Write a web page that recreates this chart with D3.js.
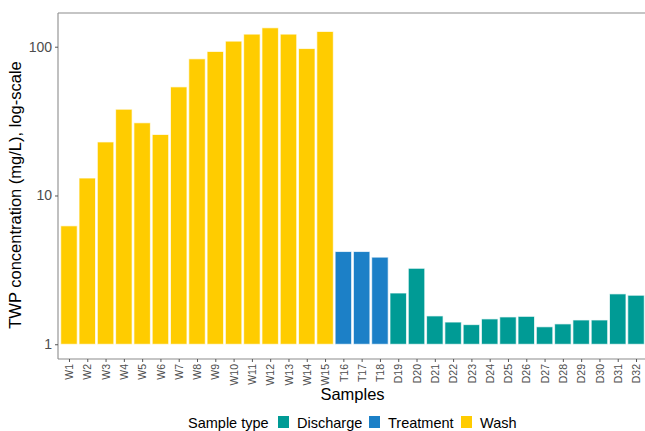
<!DOCTYPE html>
<html><head><meta charset="utf-8">
<script src="https://cdn.jsdelivr.net/npm/d3@7"></script>
<style>body{margin:0;background:#fff}svg{display:block;font-family:"Liberation Sans",Arial,sans-serif}</style>
</head><body><svg id="c" width="645" height="431"></svg>
<script>
const samples = ["W1","W2","W3","W4","W5","W6","W7","W8","W9","W10","W11","W12","W13","W14","W15","T16","T17","T18","D19","D20","D21","D22","D23","D24","D25","D26","D27","D28","D29","D30","D31","D32"];
const values = [6.25,13.1,22.9,38.0,30.8,25.7,53.7,82.9,92.9,109,121.5,134,121.5,97.2,126.6,4.2,4.2,3.85,2.21,3.24,1.55,1.41,1.355,1.48,1.526,1.54,1.31,1.37,1.456,1.456,2.18,2.135];
const types = ["Wash","Wash","Wash","Wash","Wash","Wash","Wash","Wash","Wash","Wash","Wash","Wash","Wash","Wash","Wash","Treatment","Treatment","Treatment","Discharge","Discharge","Discharge","Discharge","Discharge","Discharge","Discharge","Discharge","Discharge","Discharge","Discharge","Discharge","Discharge","Discharge"];
const legendTypes = ["Discharge","Treatment","Wash"];
const typeColors = ["#009B95","#1C80C7","#FFCC00"];
const yTicks = [1,10,100];

const svg = d3.select("#c");
const L = 58, R = 647, T = 13, B = 359;
const x = d3.scalePoint().domain(samples).range([L, R]).padding(0.6);
const y = d3.scaleLog().domain([0.796, 168.5]).range([B, T]);
const color = d3.scaleOrdinal().domain(legendTypes).range(typeColors);
const bw = x.step() * 0.9;

svg.append("g").selectAll("rect").data(samples).join("rect")
  .attr("x", d => x(d) - bw/2)
  .attr("width", bw)
  .attr("y", (d,i) => y(values[i]))
  .attr("height", (d,i) => y(1) - y(values[i]))
  .attr("fill", (d,i) => color(types[i]))
  .attr("stroke", "rgba(255,255,255,0.7)")
  .attr("stroke-width", 1);

// panel lines
svg.append("line").attr("x1", L).attr("x2", 645).attr("y1", T).attr("y2", T).attr("stroke", "#8c8c8c").attr("stroke-width", 1.1);

const ya = svg.append("g").attr("transform", `translate(${L},0)`)
  .call(d3.axisLeft(y).tickValues(yTicks).tickFormat(d3.format("d")).tickSize(3).tickPadding(3));
ya.select(".domain").attr("stroke", "#8c8c8c").attr("stroke-width", 1.1).attr("d", `M0,${T}V${B}`);
ya.selectAll(".tick line").attr("stroke", "#555");
ya.selectAll(".tick text").attr("fill", "#4d4d4d").style("font-size", "14px").style("font-family", "Liberation Sans, Arial, sans-serif");

const xa = svg.append("g").attr("transform", `translate(0,${B})`)
  .call(d3.axisBottom(x).tickSize(3).tickPadding(3));
xa.select(".domain").attr("stroke", "#8c8c8c").attr("stroke-width", 1.1).attr("d", `M${L},0H645`);
xa.selectAll(".tick line").attr("stroke", "#555");
xa.selectAll(".tick text")
  .attr("fill", "#4d4d4d").style("font-size", "10.5px").style("font-family", "Liberation Sans, Arial, sans-serif")
  .attr("transform", "rotate(-90)")
  .attr("text-anchor", "end").attr("x", -5).attr("y", 0).attr("dy", "0.35em");

svg.append("text").attr("transform", "translate(21,195) rotate(-90)")
  .attr("text-anchor", "middle").style("font-size", "16.5px").attr("fill", "#000")
  .text("TWP concentration (mg/L), log-scale");

svg.append("text").attr("x", (L+R)/2).attr("y", 400).attr("text-anchor", "middle")
  .style("font-size", "16.5px").attr("fill", "#000").text("Samples");

// legend
const lg = svg.append("g");
lg.append("text").attr("x", 188).attr("y", 428).style("font-size", "14.5px").text("Sample type");
const keyX = [278, 369, 461];
legendTypes.forEach((t,i) => {
  lg.append("rect").attr("x", keyX[i]).attr("y", 416).attr("width", 11).attr("height", 12).attr("fill", color(t));
  lg.append("text").attr("x", keyX[i] + 19).attr("y", 428).style("font-size", "14.5px").text(t);
});
</script></body></html>
